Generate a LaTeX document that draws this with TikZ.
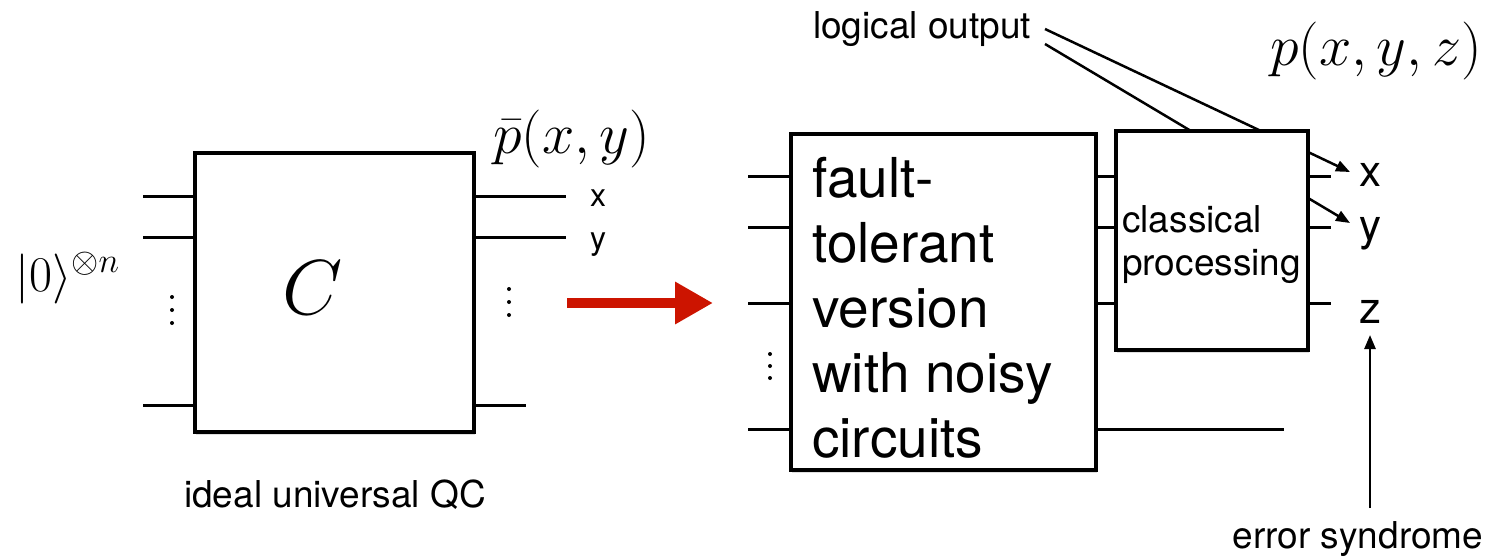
\RequirePackage{fix-cm}
\documentclass[tikz,border=0pt]{standalone}
\usepackage[no-math]{fontspec}
\setmainfont{TeX Gyre Heros}
\usetikzlibrary{arrows.meta,shadows}
\definecolor{arrowred}{RGB}{204,20,0}
\begin{document}
\begin{tikzpicture}[x=1pt,y=-1pt,
  box/.style={draw,line width=3.5pt,fill=white,inner sep=0pt,
    drop shadow={shadow xshift=0.5pt,shadow yshift=-3pt,opacity=0.25}},
  wire/.style={line width=3pt},
  txt/.style={inner sep=0pt,font=\fontsize{37}{43}\selectfont},
  lab/.style={inner sep=0pt,anchor=base},
  bigmath/.style={inner sep=0pt,anchor=base west,font=\fontsize{58}{66}\selectfont},
  smallarrow/.style={line width=2.5pt,-{Triangle[length=14pt,width=11pt]}},
  dot/.style={fill=black}]
\useasboundingbox (0,0) rectangle (1499,557);

% ---------- left: ideal circuit ----------
\node[box,minimum width=279pt,minimum height=279pt] (C) at (334.5,292.5) {};
\node[inner sep=0pt,font=\fontsize{78}{90}\selectfont] (Clbl) at (313,288) {$C$};
\node[inner sep=0pt,anchor=base west,font=\fontsize{50}{58}\selectfont] (ket) at (15,291) {$|0\rangle^{\otimes n}$};
\node[bigmath] (pbar) at (493,153) {$\bar p(x,y)$};
\node[txt,anchor=base] (ideal) at (335,507) {ideal universal QC};

\coordinate (a1) at (143,196);
\coordinate (a2) at (143,237);
\coordinate (a3) at (143,405);
\draw[wire] (a1) -- (a1 -| C.west);
\draw[wire] (a2) -- (a2 -| C.west);
\draw[wire] (a3) -- (a3 -| C.west);
\coordinate (b1) at (566,196);
\coordinate (b2) at (566,237);
\coordinate (b3) at (526,405);
\draw[wire] (C.east |- b1) -- (b1);
\draw[wire] (C.east |- b2) -- (b2);
\draw[wire] (C.east |- b3) -- (b3);
\node[lab,font=\fontsize{32}{38}\selectfont] (lx) at (598,206) {x};
\node[lab,font=\fontsize{32}{38}\selectfont] (ly) at (598,249) {y};
\foreach \yy in {297,310,323} \fill[dot] (172,\yy) circle (2pt);
\foreach \yy in {289,302,315} \fill[dot] (509,\yy) circle (2pt);

% ---------- red arrow ----------
\coordinate (r1) at (567,303);
\coordinate (r2) at (713,303);
\draw[line width=10pt,color=arrowred,-{Triangle[length=38pt,width=40pt]}] (r1) -- (r2);

% ---------- right: fault-tolerant ----------
\node[box,minimum width=305pt,minimum height=336pt] (FT) at (943.5,302) {};
\node[inner sep=0pt,anchor=base west,align=left,font=\fontsize{55}{65}\selectfont] (FTtxt) at (812,457)
  {fault-\\tolerant\\version\\with noisy\\circuits};
\node[box,minimum width=192pt,minimum height=219pt] (CP) at (1212,240.5) {};
\node[txt,anchor=base west,align=left] (CPtxt) at (1122,275) {classical\\processing};

\coordinate (f1) at (748,176);
\coordinate (f2) at (748,227);
\coordinate (f3) at (748,303);
\coordinate (f4) at (748,429);
\draw[wire] (f1) -- (f1 -| FT.west);
\draw[wire] (f2) -- (f2 -| FT.west);
\draw[wire] (f3) -- (f3 -| FT.west);
\draw[wire] (f4) -- (f4 -| FT.west);
\draw[wire] (FT.east |- f1) -- (CP.west |- f1);
\draw[wire] (FT.east |- f2) -- (CP.west |- f2);
\draw[wire] (FT.east |- f3) -- (CP.west |- f3);
\coordinate (e4) at (1284,429);
\draw[wire] (FT.east |- e4) -- (e4);
\foreach \yy in {354,366,378} \fill[dot] (770,\yy) circle (2pt);

\coordinate (s1) at (1331,176);
\coordinate (s2) at (1331,227);
\coordinate (s3) at (1331,303);
\draw[wire] (CP.east |- s1) -- (s1);
\draw[wire] (CP.east |- s2) -- (s2);
\draw[wire] (CP.east |- s3) -- (s3);

\node[lab,font=\fontsize{44}{52}\selectfont] (rx) at (1370,186) {x};
\node[lab,font=\fontsize{44}{52}\selectfont] (ry) at (1370,240) {y};
\node[lab,font=\fontsize{44}{52}\selectfont] (rz) at (1370,323) {z};

\coordinate (ox) at (1308,152);
\coordinate (oxt) at (1350,172);
\coordinate (oy) at (1308,198);
\coordinate (oyt) at (1350,223);
\draw[smallarrow] (ox) -- (oxt);
\draw[smallarrow] (oy) -- (oyt);

\node[bigmath] (pxyz) at (1270,65) {$p(x,y,z)$};

\node[txt,anchor=base west] (logical) at (813,38) {logical output};
\coordinate (l1) at (1045,29);
\coordinate (l2) at (1045,44);
\coordinate (t1) at (1261,131);
\coordinate (t2) at (1191,131);
\draw[line width=2.5pt] (l1) -- (t1);
\draw[line width=2.5pt] (l2) -- (t2);

\node[txt,anchor=base] (err) at (1358,548) {error syndrome};
\coordinate (eb) at (1370,508);
\coordinate (et) at (1370,335);
\draw[smallarrow] (eb) -- (et);
\end{tikzpicture}
\end{document}
